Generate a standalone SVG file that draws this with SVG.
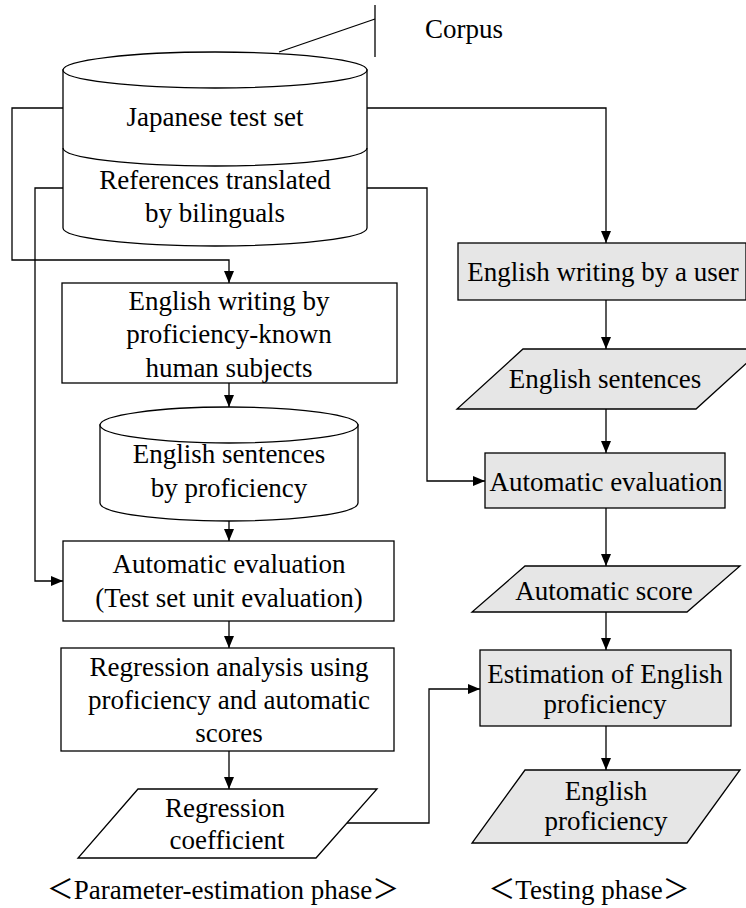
<svg xmlns="http://www.w3.org/2000/svg" width="746" height="908" viewBox="0 0 746 908">
<style>
  .s{fill:none;stroke:#000;stroke-width:1.3}
  .w{fill:#fff;stroke:#000;stroke-width:1.3}
  .g{fill:#e6e6e6;stroke:#000;stroke-width:1.3}
  .c{fill:none;stroke:#000;stroke-width:1.3;marker-end:url(#ah)}
  text{font-family:"Liberation Serif",serif;font-size:27px;fill:#000;text-anchor:middle}
  .cjk{font-family:"Liberation Serif","Noto Sans CJK JP",serif}
</style>
<defs>
  <marker id="ah" viewBox="0 0 12 10" refX="12" refY="5" markerWidth="12" markerHeight="10" markerUnits="userSpaceOnUse" orient="auto">
    <path d="M0,0 L12,5 L0,10 Z" fill="#000"/>
  </marker>
</defs>
<rect width="746" height="908" fill="#fff"/>

<g id="corpus-label">
  <line class="s" x1="375" y1="5" x2="375" y2="57"/>
  <line class="s" x1="375" y1="19" x2="279" y2="52"/>
  <text x="425" y="38" style="text-anchor:start">Corpus</text>
</g>

<g id="connectors">
  <polyline class="c" points="63,108 12,108 12,260 229,260 229,283"/>
  <polyline class="c" points="63,188 35,188 35,581 63,581"/>
  <polyline class="c" points="367,108 606,108 606,243"/>
  <polyline class="c" points="367,188 427,188 427,481 485,481"/>
  <line class="c" x1="229" y1="383" x2="229" y2="407"/>
  <line class="c" x1="229" y1="521" x2="229" y2="541"/>
  <line class="c" x1="229" y1="621" x2="229" y2="648"/>
  <line class="c" x1="229" y1="751" x2="229" y2="789"/>
  <polyline class="c" points="347,823 429,823 429,689 480,689"/>
  <line class="c" x1="606" y1="300" x2="606" y2="349"/>
  <line class="c" x1="606" y1="409" x2="606" y2="453"/>
  <line class="c" x1="606" y1="508" x2="606" y2="566"/>
  <line class="c" x1="606" y1="612" x2="606" y2="650"/>
  <line class="c" x1="606" y1="726" x2="606" y2="770"/>
</g>

<g id="corpus">
  <path class="w" d="M63,70 L63,228 A152,18 0 0 0 367,228 L367,70 Z"/>
  <ellipse class="w" cx="215" cy="70" rx="152" ry="18"/>
  <path class="s" d="M63,148 A152,18 0 0 0 367,148"/>
  <text x="215" y="126">Japanese test set</text>
  <text x="215" y="189">References translated</text>
  <text x="215" y="222">by bilinguals</text>
</g>

<g id="english-writing-known">
  <rect class="w" x="62" y="283" width="335" height="100"/>
  <text x="229" y="310">English writing by</text>
  <text x="229" y="343">proficiency-known</text>
  <text x="229" y="377">human subjects</text>
</g>

<g id="english-sentences-by-proficiency">
  <path class="w" d="M100,425 L100,503 A129,18 0 0 0 358,503 L358,425 Z"/>
  <ellipse class="w" cx="229" cy="425" rx="129" ry="18"/>
  <text x="229" y="463">English sentences</text>
  <text x="229" y="497">by proficiency</text>
</g>

<g id="automatic-evaluation-left">
  <rect class="w" x="63" y="541" width="331" height="80"/>
  <text x="229" y="573">Automatic evaluation</text>
  <text x="229" y="607">(Test set unit evaluation)</text>
</g>

<g id="regression-analysis">
  <rect class="w" x="61" y="648" width="333" height="103"/>
  <text x="229" y="676">Regression analysis using</text>
  <text x="229" y="709">proficiency and automatic</text>
  <text x="229" y="742">scores</text>
</g>

<g id="regression-coefficient">
  <polygon class="w" points="138,789 377,789 316,858 78,858"/>
  <text x="225" y="817">Regression</text>
  <text x="227" y="849">coefficient</text>
</g>

<g id="english-writing-user">
  <rect class="g" x="458" y="243" width="288" height="57"/>
  <text x="603" y="281">English writing by a user</text>
</g>

<g id="english-sentences">
  <polygon class="g" points="523,349 762,349 696,409 457,409"/>
  <text x="605" y="388">English sentences</text>
</g>

<g id="automatic-evaluation-right">
  <rect class="g" x="485" y="453" width="240" height="55"/>
  <text x="606" y="491">Automatic evaluation</text>
</g>

<g id="automatic-score">
  <polygon class="g" points="525,566 740,566 687,612 472,612"/>
  <text x="604" y="600">Automatic score</text>
</g>

<g id="estimation">
  <rect class="g" x="480" y="650" width="251" height="76"/>
  <text x="605" y="683">Estimation of English</text>
  <text x="605" y="713">proficiency</text>
</g>

<g id="english-proficiency">
  <polygon class="g" points="525,770 740,770 687,843 472,843"/>
  <text x="606" y="800">English</text>
  <text x="606" y="830">proficiency</text>
</g>

<g id="phase-labels">
  <text class="cjk" x="223" y="899">＜Parameter-estimation phase＞</text>
  <text class="cjk" x="589" y="899">＜Testing phase＞</text>
</g>
</svg>
